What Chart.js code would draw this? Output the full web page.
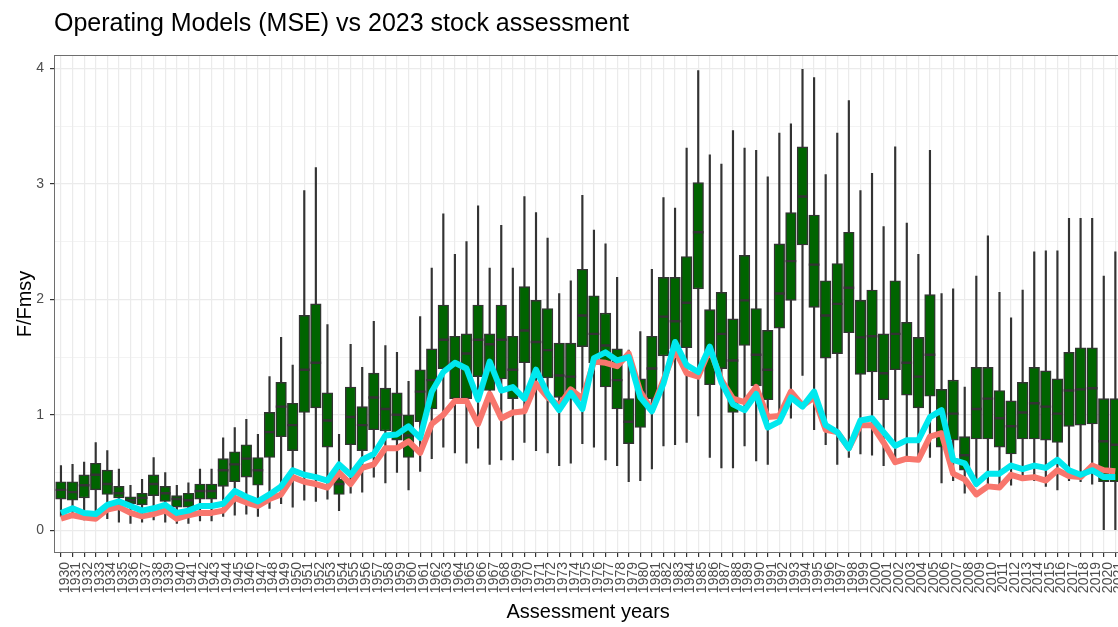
<!DOCTYPE html>
<html>
<head>
<meta charset="utf-8">
<title>Operating Models (MSE) vs 2023 stock assessment</title>
<script src="https://cdn.jsdelivr.net/npm/chart.js@4.4.0/dist/chart.umd.min.js"></script>
<style>
  html, body { margin: 0; padding: 0; background: #fff; overflow: hidden; }
  #wrap { width: 1130px; height: 627px; }
</style>
</head>
<body>
<div id="wrap"><canvas id="fChart" width="1130" height="627"></canvas></div>
<script>
// assessment years on the x axis
const years = [
  1930, 1931, 1932, 1933, 1934, 1935, 1936, 1937, 1938, 1939,
  1940, 1941, 1942, 1943, 1944, 1945, 1946, 1947, 1948, 1949,
  1950, 1951, 1952, 1953, 1954, 1955, 1956, 1957, 1958, 1959,
  1960, 1961, 1962, 1963, 1964, 1965, 1966, 1967, 1968, 1969,
  1970, 1971, 1972, 1973, 1974, 1975, 1976, 1977, 1978, 1979,
  1980, 1981, 1982, 1983, 1984, 1985, 1986, 1987, 1988, 1989,
  1990, 1991, 1992, 1993, 1994, 1995, 1996, 1997, 1998, 1999,
  2000, 2001, 2002, 2003, 2004, 2005, 2006, 2007, 2008, 2009,
  2010, 2011, 2012, 2013, 2014, 2015, 2016, 2017, 2018, 2019,
  2020, 2021
];

// operating model boxplots (F/Fmsy)
const whiskerLow = [
  0.12, 0.12, 0.09, 0.09, 0.10, 0.07, 0.06, 0.07, 0.09, 0.07,
  0.06, 0.06, 0.08, 0.08, 0.12, 0.13, 0.14, 0.12, 0.19, 0.23,
  0.20, 0.26, 0.25, 0.27, 0.17, 0.32, 0.33, 0.46, 0.41, 0.50,
  0.35, 0.51, 0.62, 0.72, 0.67, 0.58, 0.71, 0.57, 0.61, 0.61,
  0.76, 0.69, 0.67, 0.56, 0.58, 0.75, 0.72, 0.61, 0.56, 0.42,
  0.43, 0.53, 0.73, 0.74, 0.76, 0.99, 0.63, 0.54, 0.54, 0.73,
  0.60, 0.57, 0.95, 0.97, 1.34, 0.87, 0.74, 0.57, 0.63, 0.66,
  0.65, 0.56, 0.60, 0.62, 0.60, 0.63, 0.41, 0.43, 0.32, 0.42,
  0.40, 0.39, 0.39, 0.43, 0.43, 0.38, 0.35, 0.43, 0.42, 0.40,
  0.00, 0.00
];
const boxLow = [
  0.27, 0.26, 0.28, 0.35, 0.31, 0.28, 0.23, 0.22, 0.30, 0.25,
  0.20, 0.20, 0.27, 0.27, 0.38, 0.42, 0.46, 0.39, 0.63, 0.81,
  0.69, 1.02, 1.06, 0.72, 0.31, 0.74, 0.69, 0.87, 0.86, 0.78,
  0.63, 0.94, 1.05, 1.40, 1.14, 1.14, 1.33, 1.21, 1.31, 1.14,
  1.45, 1.31, 1.32, 1.15, 1.15, 1.59, 1.45, 1.24, 1.05, 0.75,
  0.89, 1.14, 1.51, 1.57, 1.58, 2.09, 1.26, 1.40, 1.02, 1.60,
  1.25, 1.13, 1.75, 1.99, 2.47, 1.93, 1.49, 1.53, 1.71, 1.35,
  1.37, 1.13, 1.39, 1.17, 1.06, 1.16, 0.72, 0.78, 0.52, 0.79,
  0.79, 0.72, 0.66, 0.79, 0.79, 0.78, 0.76, 0.90, 0.91, 0.92,
  0.42, 0.42
];
const medians = [
  0.35, 0.33, 0.39, 0.48, 0.40, 0.32, 0.26, 0.28, 0.40, 0.32,
  0.27, 0.26, 0.34, 0.34, 0.52, 0.57, 0.62, 0.52, 0.85, 1.07,
  0.91, 1.39, 1.45, 0.95, 0.40, 0.98, 0.91, 1.15, 1.05, 1.00,
  0.82, 1.20, 1.30, 1.65, 1.45, 1.53, 1.65, 1.61, 1.65, 1.39,
  1.73, 1.63, 1.56, 1.34, 1.33, 1.86, 1.70, 1.60, 1.30, 0.94,
  1.20, 1.40, 1.85, 1.81, 1.97, 2.58, 1.53, 1.70, 1.47, 1.99,
  1.52, 1.39, 2.05, 2.33, 2.89, 2.30, 1.86, 1.96, 2.10, 1.67,
  1.68, 1.36, 1.70, 1.45, 1.33, 1.52, 1.00, 1.01, 0.65, 1.05,
  1.14, 0.97, 0.90, 1.02, 1.10, 1.07, 1.01, 1.21, 1.22, 1.23,
  0.77, 0.74
];
const boxHigh = [
  0.42, 0.42, 0.48, 0.58, 0.52, 0.38, 0.29, 0.32, 0.48, 0.38,
  0.30, 0.32, 0.40, 0.40, 0.62, 0.68, 0.74, 0.63, 1.02, 1.28,
  1.10, 1.86, 1.96, 1.19, 0.44, 1.24, 1.07, 1.36, 1.23, 1.19,
  1.00, 1.39, 1.57, 1.95, 1.68, 1.70, 1.95, 1.70, 1.95, 1.68,
  2.11, 1.99, 1.92, 1.62, 1.62, 2.26, 2.03, 1.88, 1.57, 1.14,
  1.31, 1.68, 2.19, 2.19, 2.37, 3.01, 1.91, 2.06, 1.83, 2.38,
  1.92, 1.73, 2.48, 2.75, 3.32, 2.73, 2.16, 2.31, 2.58, 1.99,
  2.08, 1.70, 2.16, 1.80, 1.67, 2.04, 1.22, 1.30, 0.81, 1.41,
  1.41, 1.21, 1.12, 1.28, 1.41, 1.38, 1.31, 1.54, 1.58, 1.58,
  1.14, 1.14
];
const whiskerHigh = [
  0.56, 0.57, 0.59, 0.76, 0.69, 0.53, 0.39, 0.44, 0.63, 0.50,
  0.39, 0.41, 0.53, 0.53, 0.80, 0.89, 0.96, 0.83, 1.33, 1.67,
  1.43, 2.94, 3.14, 1.78, 0.83, 1.61, 1.41, 1.81, 1.60, 1.54,
  1.29, 1.85, 2.27, 2.74, 2.39, 2.50, 2.81, 2.27, 2.64, 2.27,
  2.89, 2.75, 2.53, 2.05, 2.16, 2.90, 2.60, 2.48, 2.19, 1.56,
  1.72, 2.26, 2.88, 2.79, 3.31, 3.98, 3.25, 3.17, 3.46, 3.31,
  3.29, 3.06, 3.44, 3.52, 3.99, 3.92, 3.08, 3.44, 3.72, 2.94,
  3.09, 2.63, 3.32, 2.66, 2.39, 3.29, 2.05, 2.09, 1.24, 2.20,
  2.55, 2.06, 1.84, 2.08, 2.41, 2.42, 2.42, 2.70, 2.70, 2.70,
  2.20, 2.41
];

// 2023 stock assessment runs
const assessRed = [
  0.10, 0.13, 0.11, 0.10, 0.18, 0.20, 0.15, 0.12, 0.14, 0.17,
  0.10, 0.13, 0.15, 0.15, 0.17, 0.28, 0.24, 0.21, 0.27, 0.31,
  0.46, 0.42, 0.40, 0.37, 0.50, 0.40, 0.54, 0.57, 0.71, 0.71,
  0.77, 0.67, 0.92, 1.00, 1.12, 1.12, 0.92, 1.18, 0.97, 1.02,
  1.03, 1.27, 1.15, 1.08, 1.22, 1.14, 1.46, 1.45, 1.42, 1.53,
  1.20, 1.04, 1.30, 1.56, 1.36, 1.33, 1.57, 1.30, 1.14, 1.11,
  1.24, 0.98, 0.99, 1.20, 1.08, 1.15, 0.87, 0.85, 0.71, 0.91,
  0.91, 0.76, 0.59, 0.62, 0.61, 0.81, 0.84, 0.49, 0.44, 0.31,
  0.38, 0.37, 0.48, 0.45, 0.46, 0.43, 0.52, 0.47, 0.46, 0.56,
  0.52, 0.51
];
const assessCyan = [
  0.15, 0.19, 0.15, 0.14, 0.22, 0.25, 0.21, 0.17, 0.19, 0.22,
  0.15, 0.17, 0.21, 0.21, 0.23, 0.34, 0.29, 0.25, 0.31, 0.38,
  0.52, 0.48, 0.46, 0.43, 0.57, 0.48, 0.61, 0.66, 0.82, 0.83,
  0.90, 0.80, 1.20, 1.37, 1.45, 1.40, 1.13, 1.46, 1.21, 1.24,
  1.14, 1.39, 1.18, 1.04, 1.19, 1.05, 1.49, 1.54, 1.47, 1.50,
  1.15, 1.03, 1.27, 1.63, 1.43, 1.37, 1.59, 1.28, 1.09, 1.04,
  1.18, 0.89, 0.94, 1.15, 1.07, 1.20, 0.91, 0.85, 0.71, 0.95,
  0.97, 0.85, 0.73, 0.78, 0.78, 0.98, 1.04, 0.61, 0.58, 0.40,
  0.49, 0.49, 0.56, 0.53, 0.56, 0.54, 0.61, 0.52, 0.48, 0.52,
  0.46, 0.46
];

const yTicks = [0, 0.5, 1, 1.5, 2, 2.5, 3, 3.5, 4];
const titleText = 'Operating Models (MSE) vs 2023 stock assessment';

const FONT = '"Liberation Sans", Arial, sans-serif';
const INK = '#333333';

const asPoints = arr => arr.map((v, i) => ({ x: i, y: v }));
const asRanges = (lo, hi) => lo.map((v, i) => ({ x: i, y: [v, hi[i]] }));

// title left-aligned with the panel, plus the panel frame on top
const panelDecor = {
  id: 'panelDecor',
  afterDraw(chart) {
    const { ctx, chartArea: a } = chart;
    ctx.save();
    ctx.strokeStyle = '#6e6e6e';
    ctx.lineWidth = 1;
    ctx.strokeRect(a.left + 0.5, a.top + 0.5, a.right - a.left - 1, a.bottom - a.top - 1);
    ctx.font = '25px ' + FONT;
    ctx.fillStyle = '#000';
    ctx.textBaseline = 'alphabetic';
    ctx.textAlign = 'left';
    ctx.fillText(titleText, a.left, 30.5);
    ctx.restore();
  }
};

new Chart(document.getElementById('fChart'), {
  type: 'bar',
  data: {
    datasets: [
      {
        type: 'line',
        label: 'SA run 2',
        data: asPoints(assessCyan),
        borderColor: '#00E8EE',
        borderWidth: 6,
        borderJoinStyle: 'round',
        pointRadius: 0,
        tension: 0,
        order: 0
      },
      {
        type: 'line',
        label: 'SA run 1',
        data: asPoints(assessRed),
        borderColor: '#F8766D',
        borderWidth: 6,
        borderJoinStyle: 'round',
        pointRadius: 0,
        tension: 0,
        order: 1
      },
      {
        type: 'line',
        label: 'median',
        data: asPoints(medians),
        showLine: false,
        pointStyle: 'line',
        pointRadius: 5.3,
        pointBorderWidth: 2.4,
        pointBorderColor: INK,
        order: 2
      },
      {
        label: 'IQR',
        data: asRanges(boxLow, boxHigh),
        backgroundColor: '#006400',
        borderColor: INK,
        borderWidth: 1.4,
        borderSkipped: false,
        barThickness: 10.6,
        grouped: false,
        order: 3
      },
      {
        label: 'whiskers',
        data: asRanges(whiskerLow, whiskerHigh),
        backgroundColor: INK,
        borderWidth: 0,
        barThickness: 1.5,
        grouped: false,
        order: 4
      }
    ]
  },
  options: {
    responsive: false,
    animation: false,
    layout: { padding: { left: 0, top: 55, right: 7, bottom: 0 } },
    plugins: {
      legend: { display: false },
      tooltip: { enabled: false },
      title: { display: false }
    },
    scales: {
      x: {
        type: 'linear',
        min: -0.6,
        max: 91.6,
        offset: false,
        afterBuildTicks: s => { s.ticks = years.map((y, i) => ({ value: i })); },
        afterFit: s => {
          s.height = 74;
          // the panel runs on past the right edge, so no room is kept for the last label
          s.paddingLeft = 0;
          s.paddingRight = 0;
        },
        ticks: {
          autoSkip: false,
          minRotation: 90,
          maxRotation: 90,
          padding: 5,
          labelOffset: 4,
          color: '#4D4D4D',
          font: { family: FONT, size: 14 },
          callback: v => years[v]
        },
        grid: {
          offset: false,
          color: '#EBEBEB',
          lineWidth: 1.2,
          tickColor: INK,
          tickLength: 4
        },
        border: { display: false },
        title: {
          display: true,
          text: 'Assessment years',
          color: '#000',
          font: { family: FONT, size: 20 },
          padding: { top: 0, bottom: 3 }
        }
      },
      y: {
        min: -0.197,
        max: 4.115,
        afterBuildTicks: s => { s.ticks = yTicks.map(v => ({ value: v })); },
        afterFit: s => { s.width = 54; },
        ticks: {
          padding: 6,
          color: '#4D4D4D',
          font: { family: FONT, size: 14 },
          callback: v => (Number.isInteger(v) ? v : '')
        },
        grid: {
          color: '#EBEBEB',
          lineWidth: c => (Number.isInteger(c.tick.value) ? 1.2 : 0.6),
          tickColor: c => (Number.isInteger(c.tick.value) ? INK : 'rgba(0,0,0,0)'),
          tickLength: 4
        },
        border: { display: false },
        title: {
          display: true,
          text: 'F/Fmsy',
          color: '#000',
          font: { family: FONT, size: 20 },
          padding: { top: 13, bottom: 0 }
        }
      }
    }
  },
  plugins: [panelDecor]
});
</script>
</body>
</html>
